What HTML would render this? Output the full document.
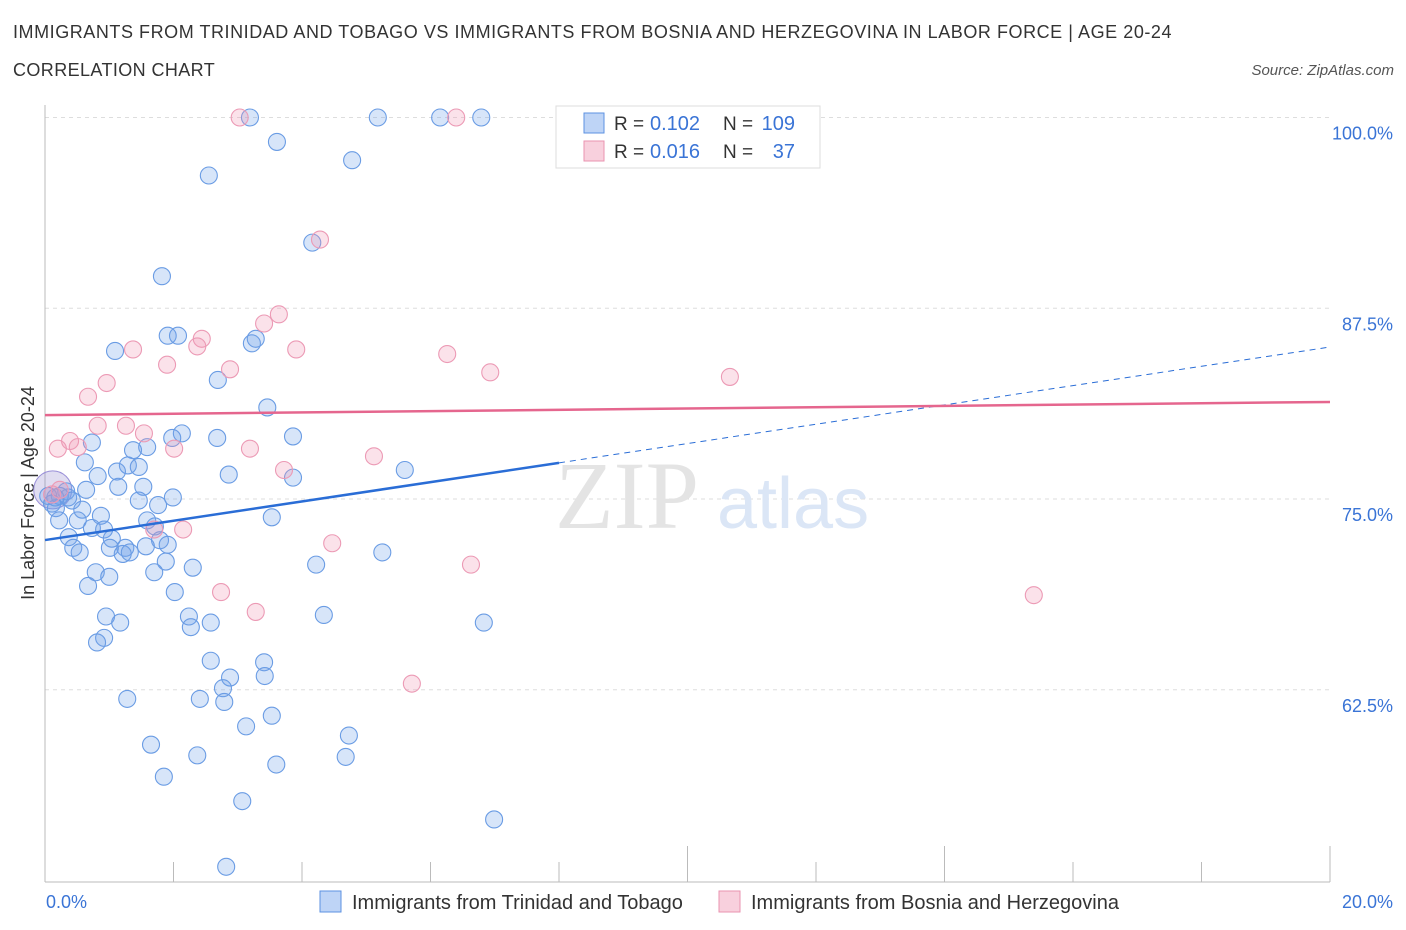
<!DOCTYPE html>
<html><head><meta charset="utf-8">
<style>
body{margin:0;background:#fff;font-family:"Liberation Sans",sans-serif;}
#wrap{position:relative;width:1406px;height:930px;overflow:hidden;}
.t{position:absolute;white-space:nowrap;}
</style></head>
<body>
<div id="wrap">
<div class="t" style="left:13px;top:22px;font-size:18px;color:#333;letter-spacing:0.55px;">IMMIGRANTS FROM TRINIDAD AND TOBAGO VS IMMIGRANTS FROM BOSNIA AND HERZEGOVINA IN LABOR FORCE | AGE 20-24</div>
<div class="t" style="left:13px;top:60px;font-size:18px;color:#333;letter-spacing:0.4px;">CORRELATION CHART</div>
<div class="t" style="right:12px;top:62px;font-size:15px;color:#555;font-style:italic;">Source: ZipAtlas.com</div>
<svg id="plot" width="1406" height="930" style="position:absolute;left:0;top:0"></svg>
</div>
<script>
const categories=["Immigrants from Trinidad and Tobago","Immigrants from Bosnia and Herzegovina"];
const yTicks=[100,87.5,75,62.5];
const yTickLabels=["100.0%","87.5%","75.0%","62.5%"];
const xTickLabels=["0.0%","20.0%"];
const blueX=[3.19,5.18,6.15,6.79,3.61,4.78,2.55,4.16,1.82,1.91,2.07,1.09,3.22,3.28,2.69,3.46,2.13,3.86,1.98,2.68,0.73,1.59,1.37,0.62,1.29,1.46,1.12,0.82,2.86,3.86,5.60,0.33,0.64,1.53,1.14,1.99,1.46,1.76,0.36,0.23,0.16,0.05,0.11,0.17,0.42,0.58,0.22,0.51,0.87,1.59,0.73,0.92,1.71,3.53,1.04,0.37,1.79,0.44,1.01,1.25,1.57,1.91,0.54,1.21,1.32,5.25,1.88,4.22,2.30,0.79,1.70,1.00,0.67,2.02,0.95,2.24,4.34,1.17,2.58,2.27,6.83,0.92,0.81,2.58,3.41,2.88,3.42,2.77,1.28,2.41,2.79,3.53,3.13,4.73,1.65,2.37,4.68,3.60,1.85,3.07,6.99,2.82];
const blueY=[100,100,100,100,98.4,97.2,96.2,91.8,89.6,85.7,85.7,84.7,85.2,85.5,82.8,81.0,79.3,79.1,79.0,79.0,78.7,78.4,78.2,77.4,77.2,77.1,76.8,76.5,76.6,76.4,76.9,75.5,75.6,75.8,75.8,75.1,74.9,74.6,75.1,75.2,75.1,75.2,74.7,74.4,74.9,74.3,73.6,73.6,73.9,73.6,73.1,73.0,73.2,73.8,72.4,72.5,72.3,71.8,71.8,71.8,71.9,72.0,71.5,71.4,71.5,71.5,70.9,70.7,70.5,70.2,70.2,69.9,69.3,68.9,67.3,67.3,67.4,66.9,66.9,66.6,66.9,65.9,65.6,64.4,64.3,63.3,63.4,62.6,61.9,61.9,61.7,60.8,60.1,59.5,58.9,58.2,58.1,57.6,56.8,55.2,54.0,50.9];
const pinkX=[3.03,6.40,8.11,4.28,3.64,3.41,2.44,2.37,1.37,3.91,6.26,1.90,2.88,6.93,10.66,0.96,0.67,0.82,1.26,0.39,0.51,0.20,1.54,2.01,3.19,5.12,3.72,0.23,0.11,1.70,2.15,4.47,6.63,2.74,3.28,15.39,5.71];
const pinkY=[100,100,100,92.0,87.1,86.5,85.5,85.0,84.8,84.8,84.5,83.8,83.5,83.3,83.0,82.6,81.7,79.8,79.8,78.8,78.4,78.3,79.3,78.3,78.3,77.8,76.9,75.6,75.3,73.0,73.0,72.1,70.7,68.9,67.6,68.7,62.9];
const blueTrend=[72.31,84.96];
const pinkTrend=[80.5,81.36];
const statR=["0.102","0.016"];
const statN=["109","37"];

const NS="http://www.w3.org/2000/svg";
const svg=document.getElementById('plot');
const X0=45,X1=1330;
const sx=v=>X0+(v/20)*(X1-X0);
const sy=v=>499-(v-75)*15.26;
function mk(tag,attrs,parent){const e=document.createElementNS(NS,tag);for(const k in attrs)e.setAttribute(k,attrs[k]);(parent||svg).appendChild(e);return e;}
const FF='Liberation Sans, sans-serif';

yTicks.forEach((t,i)=>{
  const g=mk('line',{x1:X0,x2:X1,y1:sy(t),y2:sy(t),stroke:'#ddd','stroke-dasharray':'4,4'});
  
  
  const tx=mk('text',{x:1393,y:sy(t)+22,'text-anchor':'end','font-size':18,fill:'#3a74d6','font-family':FF});
  tx.textContent=yTickLabels[i];
  
  
});
const ya=mk('line',{x1:X0,x2:X0,y1:105,y2:882,stroke:'#bbb'});


const xa=mk('line',{x1:X0,x2:X1,y1:882,y2:882,stroke:'#bbb'});


for(let i=0;i<=10;i++){
  const x=sx(i*2);
  const tall=(i==5||i==7||i==10);
  const tk=mk('line',{x1:x,x2:x,y1:882,y2:tall?846:862,stroke:'#bbb'});
  
  
}
[[46,'start'],[1393,'end']].forEach((d,i)=>{
  const t=mk('text',{x:d[0],y:908,'text-anchor':d[1],'font-size':18,fill:'#3a74d6','font-family':FF});
  t.textContent=xTickLabels[i];
  
  
});
const yt=mk('text',{x:34,y:493,'text-anchor':'middle','font-size':18,fill:'#333',transform:'rotate(-90 34 493)','font-family':FF});
yt.textContent='In Labor Force | Age 20-24';


const wm=mk('text',{x:555,y:528,'font-size':96,fill:'#e4e4e4','font-family':'Liberation Serif, serif'});
wm.textContent='ZIP';


const wm2=mk('text',{x:717,y:528,'font-size':72,fill:'#dbe6f6','font-family':FF});
wm2.textContent='atlas';



const big=mk('circle',{cx:sx(0.12),cy:sy(75.6),r:19,fill:'rgba(130,120,200,0.25)',stroke:'#9a90d8','stroke-width':1});


blueX.forEach((v,i)=>{
  const c=mk('circle',{cx:sx(v),cy:sy(blueY[i]),r:8.5,fill:'rgba(110,160,235,0.28)',stroke:'#6a9ce4','stroke-width':1.1});
  
  
});
pinkX.forEach((v,i)=>{
  const c=mk('circle',{cx:sx(v),cy:sy(pinkY[i]),r:8.5,fill:'rgba(240,150,180,0.28)',stroke:'#ec9ab5','stroke-width':1.1});
  
  
});
const bt=v=>blueTrend[0]+(blueTrend[1]-blueTrend[0])*v/20;
const l1=mk('line',{x1:sx(0),y1:sy(bt(0)),x2:sx(8),y2:sy(bt(8)),stroke:'#2a6dd6','stroke-width':2.5});


const l2=mk('line',{x1:sx(8),y1:sy(bt(8)),x2:sx(20),y2:sy(bt(20)),stroke:'#2a6dd6','stroke-width':1,'stroke-dasharray':'6,5'});


const l3=mk('line',{x1:sx(0),y1:sy(pinkTrend[0]),x2:sx(20),y2:sy(pinkTrend[1]),stroke:'#e5668e','stroke-width':2.5});



const lg=mk('g',{});


mk('rect',{x:556,y:106,width:264,height:62,fill:'#fff',stroke:'#ddd'},lg);
const cols=[['rgba(110,160,235,0.45)','#5c92e2'],['rgba(240,150,180,0.45)','#ea93b0']];
statR.forEach((s,i)=>{
  const y=123+i*28;
  const sw=mk('rect',{x:584,y:y-10,width:20,height:20,fill:cols[i][0],stroke:cols[i][1]},lg);
  
  
  const t1=mk('text',{x:614,y:y+7,'font-size':19,fill:'#333','font-family':FF},lg);
  t1.textContent='R =';
  
  
  const t2=mk('text',{x:650,y:y+7,'font-size':20,fill:'#3a74d6','font-family':FF},lg);
  t2.textContent=s;
  
  
  const t3=mk('text',{x:723,y:y+7,'font-size':19,fill:'#333','font-family':FF},lg);
  t3.textContent='N =';
  
  
  const t4=mk('text',{x:795,y:y+7,'text-anchor':'end','font-size':20,fill:'#3a74d6','font-family':FF},lg);
  t4.textContent=statN[i];
  
  
});
[[320,'rgba(110,160,235,0.45)','#5c92e2',352],[719,'rgba(240,150,180,0.45)','#ea93b0',751]].forEach((d,i)=>{
  const r=mk('rect',{x:d[0],y:891,width:21,height:21,fill:d[1],stroke:d[2]});
  
  
  const t=mk('text',{x:d[3],y:909,'font-size':20,fill:'#333','font-family':FF});
  t.textContent=categories[i];
  
  
});
</script>
</body></html>
